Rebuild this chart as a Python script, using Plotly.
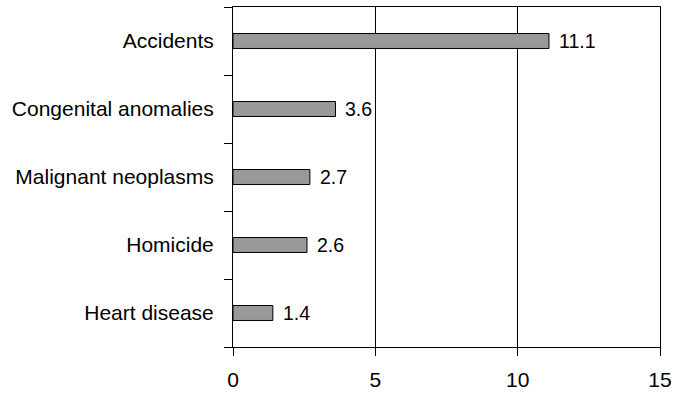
import plotly.graph_objects as go

causes = ["Accidents", "Congenital anomalies", "Malignant neoplasms", "Homicide", "Heart disease"]
rates = [11.1, 3.6, 2.7, 2.6, 1.4]
x_ticks = [0, 5, 10, 15]

family = "Liberation Sans, Arial, sans-serif"
axis_font = dict(family=family, size=21, color="black")
value_font = dict(family=family, size=19.5, color="black")

fig = go.Figure(
    go.Bar(
        x=rates,
        y=causes,
        orientation="h",
        width=0.22,
        marker=dict(color="#999999", line=dict(color="black", width=1)),
        hoverinfo="x+y",
    )
)

# value labels to the right of each bar
for c, v in zip(causes, rates):
    fig.add_annotation(
        x=v, y=c, text=f"{v}", showarrow=False,
        xanchor="left", yanchor="middle", xshift=8,
        font=value_font,
    )

fig.update_layout(
    width=678, height=397,
    margin=dict(l=233, r=13, t=6, b=49),
    paper_bgcolor="white", plot_bgcolor="white",
    font=axis_font,
    showlegend=False,
)

fig.update_xaxes(
    range=[0, 15], tickvals=x_ticks,
    showgrid=True, gridcolor="black", gridwidth=1,
    showline=True, linecolor="black", linewidth=1, mirror=True,
    ticks="outside", ticklen=8, tickcolor="black",
    ticklabelstandoff=6,
    zeroline=False, fixedrange=True,
)
fig.update_yaxes(
    categoryorder="array", categoryarray=causes[::-1],
    tickson="boundaries",
    showgrid=False,
    showline=True, linecolor="black", linewidth=1, mirror=True,
    ticks="outside", ticklen=8, tickcolor="black",
    ticklabelstandoff=14,
    fixedrange=True,
)

fig.write_html("out.html")
